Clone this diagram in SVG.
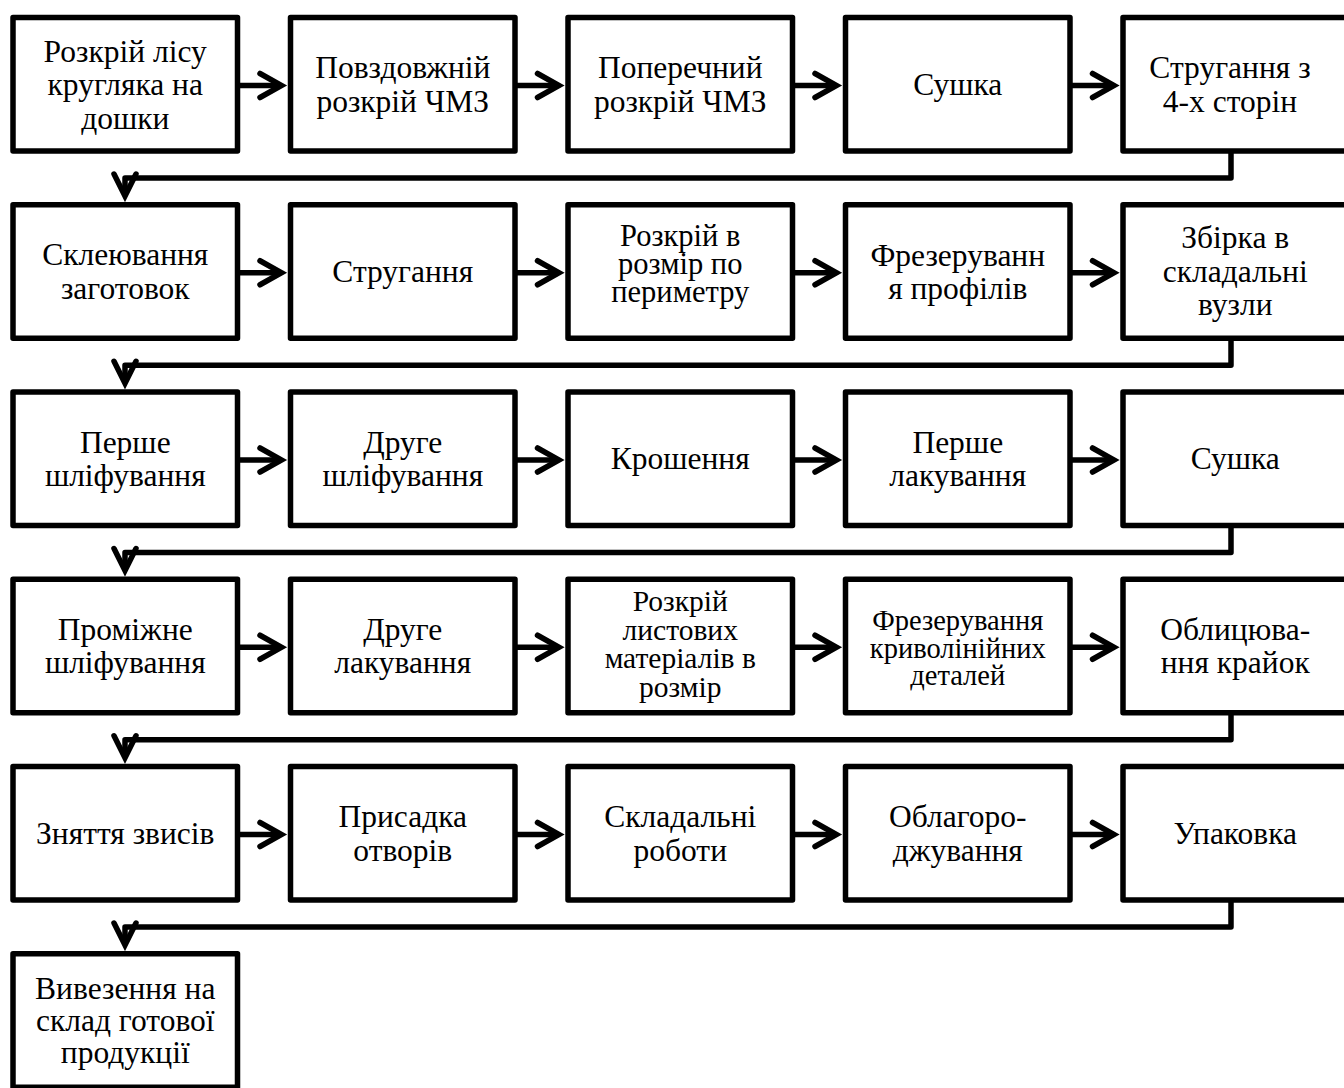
<svg xmlns="http://www.w3.org/2000/svg" width="1344" height="1088" viewBox="0 0 1344 1088">
<style>
.box{fill:#fff;stroke:#000;stroke-width:5.5;stroke-linejoin:round}
.t{font-family:"Liberation Serif","Times New Roman",serif;font-size:31.5px;fill:#000;text-anchor:middle}
.s0{font-size:30.5px}
.s1{font-size:29.5px}
.s2{font-size:28.5px}
.ln{fill:none;stroke:#000;stroke-width:5.5;stroke-linejoin:round}
.hd{fill:none;stroke:#000;stroke-width:5.5;stroke-linecap:round;stroke-linejoin:miter}
</style>
<rect width="1344" height="1088" fill="#fff"/>
<g id="connectors">
  <path class="ln" d="M237.5 85.5H281M515 85.5H558.5M792.5 85.5H836M1070 85.5H1113.5"/>
  <path class="hd" d="M260 73.5L281.5 85.5L260 97.5M537.5 73.5L559 85.5L537.5 97.5M815 73.5L836.5 85.5L815 97.5M1092.5 73.5L1114 85.5L1092.5 97.5"/>
  <path class="ln" d="M1231 151V178H125V195"/>
  <path class="hd" d="M114 174L125 196L136 174"/>
  <path class="ln" d="M237.5 272.75H281M515 272.75H558.5M792.5 272.75H836M1070 272.75H1113.5"/>
  <path class="hd" d="M260 260.75L281.5 272.75L260 284.75M537.5 260.75L559 272.75L537.5 284.75M815 260.75L836.5 272.75L815 284.75M1092.5 260.75L1114 272.75L1092.5 284.75"/>
  <path class="ln" d="M1231 338.25V365.25H125V382.25"/>
  <path class="hd" d="M114 361.25L125 383.25L136 361.25"/>
  <path class="ln" d="M237.5 460H281M515 460H558.5M792.5 460H836M1070 460H1113.5"/>
  <path class="hd" d="M260 448L281.5 460L260 472M537.5 448L559 460L537.5 472M815 448L836.5 460L815 472M1092.5 448L1114 460L1092.5 472"/>
  <path class="ln" d="M1231 525.5V552.5H125V569.5"/>
  <path class="hd" d="M114 548.5L125 570.5L136 548.5"/>
  <path class="ln" d="M237.5 647.25H281M515 647.25H558.5M792.5 647.25H836M1070 647.25H1113.5"/>
  <path class="hd" d="M260 635.25L281.5 647.25L260 659.25M537.5 635.25L559 647.25L537.5 659.25M815 635.25L836.5 647.25L815 659.25M1092.5 635.25L1114 647.25L1092.5 659.25"/>
  <path class="ln" d="M1231 712.75V739.75H125V756.75"/>
  <path class="hd" d="M114 735.75L125 757.75L136 735.75"/>
  <path class="ln" d="M237.5 834.5H281M515 834.5H558.5M792.5 834.5H836M1070 834.5H1113.5"/>
  <path class="hd" d="M260 822.5L281.5 834.5L260 846.5M537.5 822.5L559 834.5L537.5 846.5M815 822.5L836.5 834.5L815 846.5M1092.5 822.5L1114 834.5L1092.5 846.5"/>
  <path class="ln" d="M1231 900V927H125V944"/>
  <path class="hd" d="M114 923L125 945L136 923"/>
</g>
<g id="n1"><rect class="box" x="13" y="17.5" width="224.5" height="133.5"/><text class="t"><tspan x="125.25" y="61.5">Розкрій лісу</tspan><tspan x="125.25" y="95">кругляка на</tspan><tspan x="125.25" y="128.5">дошки</tspan></text></g>
<g id="n2"><rect class="box" x="290.5" y="17.5" width="224.5" height="133.5"/><text class="t"><tspan x="402.75" y="78">Повздовжній</tspan><tspan x="402.75" y="111.5">розкрій ЧМЗ</tspan></text></g>
<g id="n3"><rect class="box" x="568" y="17.5" width="224.5" height="133.5"/><text class="t"><tspan x="680.25" y="78">Поперечний</tspan><tspan x="680.25" y="111.5">розкрій ЧМЗ</tspan></text></g>
<g id="n4"><rect class="box" x="845.5" y="17.5" width="224.5" height="133.5"/><text class="t" x="957.75" y="95">Сушка</text></g>
<g id="n5"><rect class="box" x="1123" y="17.5" width="224.5" height="133.5"/><text class="t"><tspan x="1230" y="78">Стругання з</tspan><tspan x="1230" y="111.5">4-х сторін</tspan></text></g>
<g id="n6"><rect class="box" x="13" y="204.75" width="224.5" height="133.5"/><text class="t"><tspan x="125.25" y="265.25">Склеювання</tspan><tspan x="125.25" y="298.75">заготовок</tspan></text></g>
<g id="n7"><rect class="box" x="290.5" y="204.75" width="224.5" height="133.5"/><text class="t" x="402.75" y="282">Стругання</text></g>
<g id="n8"><rect class="box" x="568" y="204.75" width="224.5" height="133.5"/><text class="t s0"><tspan x="680.25" y="245.5">Розкрій в</tspan><tspan x="680.25" y="273.5">розмір по</tspan><tspan x="680.25" y="301.5">периметру</tspan></text></g>
<g id="n9"><rect class="box" x="845.5" y="204.75" width="224.5" height="133.5"/><text class="t"><tspan x="957.75" y="266">Фрезеруванн</tspan><tspan x="957.75" y="299">я профілів</tspan></text></g>
<g id="n10"><rect class="box" x="1123" y="204.75" width="224.5" height="133.5"/><text class="t"><tspan x="1235.25" y="248">Збірка в</tspan><tspan x="1235.25" y="281.5">складальні</tspan><tspan x="1235.25" y="315">вузли</tspan></text></g>
<g id="n11"><rect class="box" x="13" y="392" width="224.5" height="133.5"/><text class="t"><tspan x="125.25" y="452.5">Перше</tspan><tspan x="125.25" y="486">шліфування</tspan></text></g>
<g id="n12"><rect class="box" x="290.5" y="392" width="224.5" height="133.5"/><text class="t"><tspan x="402.75" y="452.5">Друге</tspan><tspan x="402.75" y="486">шліфування</tspan></text></g>
<g id="n13"><rect class="box" x="568" y="392" width="224.5" height="133.5"/><text class="t" x="680.25" y="469.25">Крошення</text></g>
<g id="n14"><rect class="box" x="845.5" y="392" width="224.5" height="133.5"/><text class="t"><tspan x="957.75" y="452.5">Перше</tspan><tspan x="957.75" y="486">лакування</tspan></text></g>
<g id="n15"><rect class="box" x="1123" y="392" width="224.5" height="133.5"/><text class="t" x="1235.25" y="469.25">Сушка</text></g>
<g id="n16"><rect class="box" x="13" y="579.25" width="224.5" height="133.5"/><text class="t"><tspan x="125.25" y="639.75">Проміжне</tspan><tspan x="125.25" y="673.25">шліфування</tspan></text></g>
<g id="n17"><rect class="box" x="290.5" y="579.25" width="224.5" height="133.5"/><text class="t"><tspan x="402.75" y="639.75">Друге</tspan><tspan x="402.75" y="673.25">лакування</tspan></text></g>
<g id="n18"><rect class="box" x="568" y="579.25" width="224.5" height="133.5"/><text class="t s1"><tspan x="680.25" y="611">Розкрій</tspan><tspan x="680.25" y="639.5">листових</tspan><tspan x="680.25" y="668">матеріалів в</tspan><tspan x="680.25" y="696.5">розмір</tspan></text></g>
<g id="n19"><rect class="box" x="845.5" y="579.25" width="224.5" height="133.5"/><text class="t s2"><tspan x="957.75" y="630">Фрезерування</tspan><tspan x="957.75" y="657.5">криволінійних</tspan><tspan x="957.75" y="685">деталей</tspan></text></g>
<g id="n20"><rect class="box" x="1123" y="579.25" width="224.5" height="133.5"/><text class="t"><tspan x="1235.25" y="639.75">Облицюва-</tspan><tspan x="1235.25" y="673.25">ння крайок</tspan></text></g>
<g id="n21"><rect class="box" x="13" y="766.5" width="224.5" height="133.5"/><text class="t" x="125.25" y="843.75">Зняття звисів</text></g>
<g id="n22"><rect class="box" x="290.5" y="766.5" width="224.5" height="133.5"/><text class="t"><tspan x="402.75" y="827">Присадка</tspan><tspan x="402.75" y="860.5">отворів</tspan></text></g>
<g id="n23"><rect class="box" x="568" y="766.5" width="224.5" height="133.5"/><text class="t"><tspan x="680.25" y="827">Складальні</tspan><tspan x="680.25" y="860.5">роботи</tspan></text></g>
<g id="n24"><rect class="box" x="845.5" y="766.5" width="224.5" height="133.5"/><text class="t"><tspan x="957.75" y="827">Облагоро-</tspan><tspan x="957.75" y="860.5">джування</tspan></text></g>
<g id="n25"><rect class="box" x="1123" y="766.5" width="224.5" height="133.5"/><text class="t" x="1235.25" y="843.75">Упаковка</text></g>
<g id="n26"><rect class="box" x="13" y="953.75" width="224.5" height="133.5"/><text class="t"><tspan x="125.25" y="999">Вивезення на</tspan><tspan x="125.25" y="1031">склад готової</tspan><tspan x="125.25" y="1063">продукції</tspan></text></g>
</svg>
